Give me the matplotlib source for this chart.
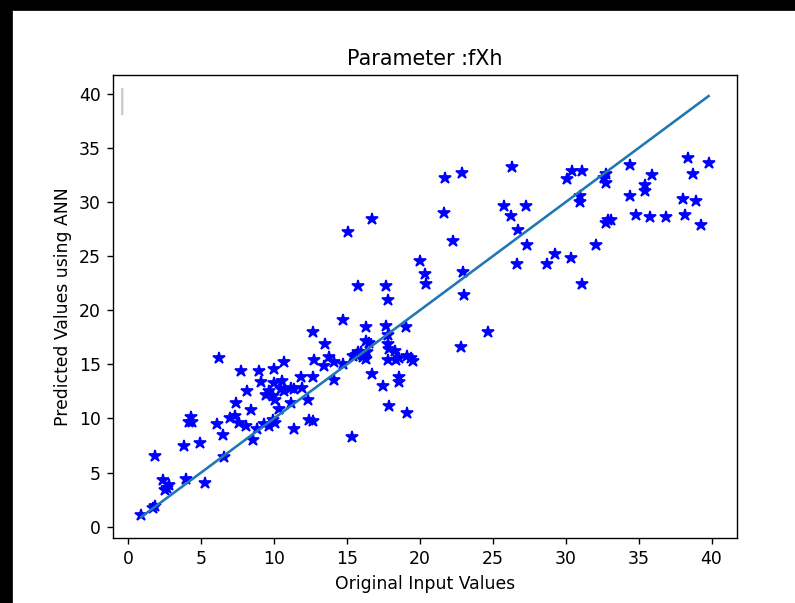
import numpy as np
import matplotlib.pyplot as plt
from matplotlib.patches import Rectangle, FancyBboxPatch

# original values (x) vs ANN predictions (y)
orig_vals = [
    0.9, 1.7, 1.85, 1.85, 2.4, 2.5, 2.65, 2.8, 4.0, 3.85, 4.95, 4.2, 4.4, 4.3, 5.25,
    6.1, 6.2, 6.5, 6.6, 7.0, 7.35, 7.6, 8.05, 7.4, 7.75, 8.15, 8.45, 8.55, 8.85, 9.0,
    9.1, 9.3, 9.45, 9.65, 9.65, 9.9, 9.9,
    10.0, 10.0, 10.1, 10.05, 10.35, 10.7, 10.55, 10.45, 10.7, 11.15, 11.4, 11.15, 11.4,
    11.85, 11.95, 12.35, 12.65, 12.75, 12.65, 12.4, 12.7, 13.5, 13.45, 13.8, 14.1,
    14.75, 14.7, 14.1, 15.35, 15.05,
    15.4, 15.6, 15.75, 16.0, 16.1, 16.3, 16.4, 16.3, 16.3, 16.5, 16.75, 15.75, 17.7,
    17.8, 17.65, 17.8, 17.8, 17.9, 18.3, 18.6, 17.8, 18.4, 19.1, 19.4, 19.5, 16.75,
    17.5, 18.6, 18.6, 17.9, 19.1, 19.05,
    20.0, 20.35, 20.45, 21.7, 22.9, 21.65, 22.25, 22.95, 23.05, 24.65, 22.85,
    26.3, 25.8, 27.3, 26.25, 26.7, 27.35, 26.65, 28.7, 29.3, 30.35, 30.1,
    30.45, 31.15, 31.0, 31.0, 31.15, 32.1, 32.75, 32.6, 32.75, 32.9, 33.1, 32.75,
    34.4, 34.4, 34.8, 35.45, 35.45, 35.9, 35.8, 36.85, 38.05, 38.15, 38.4, 38.7,
    38.95, 39.25, 39.8,
]
pred_vals = [
    1.1, 1.75, 1.9, 6.55, 4.35, 3.35, 3.6, 3.85, 4.4, 7.5, 7.7, 9.65, 9.7, 10.15, 4.0,
    9.45, 15.6, 8.5, 6.4, 10.05, 10.2, 9.6, 9.3, 11.4, 14.4, 12.5, 10.8, 8.05, 9.0, 14.4,
    13.4, 9.45, 12.2, 12.5, 9.3, 9.9, 12.05,
    14.6, 13.3, 11.75, 9.6, 10.85, 15.2, 13.45, 12.7, 12.5, 12.8, 12.7, 11.45, 9.0,
    13.85, 12.8, 11.75, 18.0, 15.45, 13.8, 9.9, 9.75, 16.85, 14.85, 15.7, 15.25,
    15.0, 19.1, 13.6, 8.3, 27.2,
    15.75, 15.9, 16.1, 16.1, 15.7, 15.5, 16.15, 18.5, 17.15, 17.0, 28.4, 22.2, 22.2,
    20.95, 18.55, 17.7, 16.85, 16.4, 16.2, 15.6, 15.45, 15.45, 15.75, 15.6, 15.3, 14.15,
    13.0, 13.8, 13.4, 11.2, 10.5, 18.5,
    24.55, 23.4, 22.4, 32.2, 32.7, 29.0, 26.4, 23.5, 21.45, 18.0, 16.6,
    33.2, 29.65, 29.65, 28.7, 27.4, 26.0, 24.3, 24.25, 25.2, 24.8, 32.1,
    32.9, 32.9, 30.6, 30.0, 22.4, 26.0, 32.6, 32.2, 31.8, 28.3, 28.3, 28.05,
    33.4, 30.6, 28.8, 31.55, 31.05, 32.5, 28.6, 28.6, 30.3, 28.8, 34.1, 32.6,
    30.1, 27.85, 33.65,
]

x = np.array(orig_vals)
y = np.array(pred_vals)
xs = np.sort(x)

fig = plt.figure(figsize=(795 / 124, 603 / 124), dpi=124)
ax = fig.add_axes([0.142, 0.1078, 0.785, 0.7678])

ax.plot(x, y, 'b*', markersize=7.5)
ax.plot(xs, xs)

# the empty legend frame in the reference shows only as a thin grey sliver
ax.add_patch(FancyBboxPatch((0.0145, 0.915), 0.001, 0.055, boxstyle='round,pad=0',
                            transform=ax.transAxes, facecolor='white',
                            edgecolor='0.8', linewidth=1.0))

ax.set_title('Parameter :fXh')
ax.set_xlabel('Original Input Values')
ax.set_ylabel('Predicted Values using ANN')
ax.set_xticks(range(0, 41, 5))
ax.set_yticks(range(0, 41, 5))

# black strips at the top and left edge of the screenshot
fig.patches.append(Rectangle((0, 1 - 10 / 603), 1, 10 / 603, transform=fig.transFigure,
                             color='black', zorder=10))
fig.patches.append(Rectangle((0, 0), 12 / 795, 1, transform=fig.transFigure,
                             color='black', zorder=10))

fig.savefig('out.png', dpi=124)
